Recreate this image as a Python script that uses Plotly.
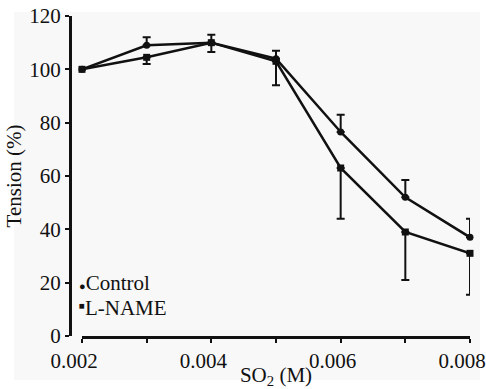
import plotly.graph_objects as go

# ---- data ----
so2 = [0.002, 0.003, 0.004, 0.005, 0.006, 0.007, 0.008]
control = [100, 109, 110, 104, 76.5, 52, 37]
control_err_up = [0, 3, 3, 3, 6.5, 6.5, 7]
lname = [100, 104.5, 110, 103, 63, 39, 31]
lname_err_down = [0, 2.5, 3.5, 9, 19, 18, 15.5]
x_tickvals = [0.002, 0.003, 0.004, 0.005, 0.006, 0.007, 0.008]
x_ticktext = ["0.002", "", "0.004", "", "0.006", "", "0.008"]
y_tickvals = [0, 20, 40, 60, 80, 100, 120]
series_names = ["Control", "L-NAME"]

FONT = "'Times New Roman', 'Liberation Serif', serif"
INK = "#111111"

fig = go.Figure()

fig.add_trace(go.Scatter(
    x=so2, y=control, mode="lines+markers", name=series_names[0],
    line=dict(color=INK, width=2.5),
    marker=dict(symbol="circle", size=7, color=INK),
    error_y=dict(type="data", array=control_err_up,
                 arrayminus=[0] * len(so2), symmetric=False,
                 color=INK, thickness=2, width=4),
    cliponaxis=False, showlegend=False,
))
fig.add_trace(go.Scatter(
    x=so2, y=lname, mode="lines+markers", name=series_names[1],
    line=dict(color=INK, width=2.5),
    marker=dict(symbol="square", size=7, color=INK),
    error_y=dict(type="data", array=[0] * len(so2),
                 arrayminus=lname_err_down, symmetric=False,
                 color=INK, thickness=2, width=4),
    cliponaxis=False, showlegend=False,
))

# legend drawn as text inside the plot (bottom-left)
fig.add_annotation(x=7 / 400, y=20, xref="paper", yref="y", xanchor="left",
                   yanchor="middle", showarrow=False,
                   text="<span style='font-size:11px'>\u25cf</span>" + series_names[0],
                   font=dict(family=FONT, size=21, color=INK))
fig.add_annotation(x=7 / 400, y=10.5, xref="paper", yref="y", xanchor="left",
                   yanchor="middle", showarrow=False,
                   text="<span style='font-size:14px'><sup>\u25a0</sup></span>" + series_names[1],
                   font=dict(family=FONT, size=21, color=INK))

# light scanned-paper background
fig.add_shape(type="rect", xref="paper", yref="paper",
              x0=-56 / 400, x1=410 / 400, y0=-44 / 320, y1=324 / 320,
              fillcolor="#f8f8f8", line=dict(width=0), layer="below")

fig.update_layout(
    width=486, height=389,
    margin=dict(l=70, r=16, t=16, b=53),
    paper_bgcolor="white", plot_bgcolor="rgba(0,0,0,0)",
    font=dict(family=FONT, size=21, color=INK),
    xaxis=dict(
        domain=[0.03, 1], range=[0.002, 0.008], automargin=False,
        tickvals=x_tickvals, ticktext=x_ticktext,
        ticks="outside", ticklen=4, tickwidth=2, tickcolor=INK,
        showline=True, linewidth=3, linecolor=INK,
        showgrid=False, zeroline=False, ticklabeloverflow="allow",
        ticklabelshift=-8,
        title=dict(text="SO<sub>2</sub> (M)", standoff=2,
                   font=dict(family=FONT, size=21)),
        tickfont=dict(family=FONT, size=21),
    ),
    yaxis=dict(
        anchor="free", position=0, range=[0, 120], automargin=False,
        tickvals=y_tickvals, ticklabeloverflow="allow",
        ticks="outside", ticklen=4, tickwidth=2, tickcolor=INK,
        showline=True, linewidth=3, linecolor=INK,
        showgrid=False, zeroline=False,
        title=dict(text="Tension (%)", standoff=0,
                   font=dict(family=FONT, size=21)),
        tickfont=dict(family=FONT, size=21),
    ),
)

fig.write_html("out.html", config={"displayModeBar": False},
               post_script="document.body.style.margin='0';")
